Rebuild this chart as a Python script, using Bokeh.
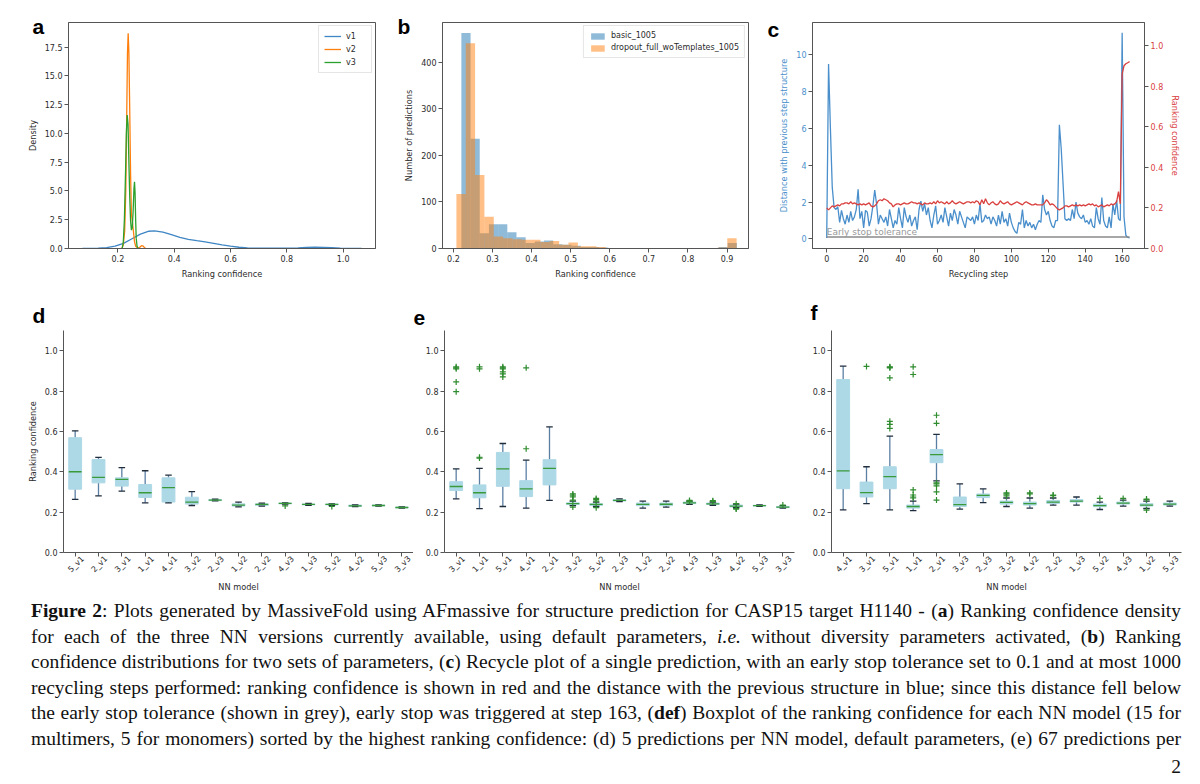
import numpy as np
from bokeh.plotting import figure
from bokeh.models import (Range1d, LinearAxis, FixedTicker, PrintfTickFormatter,
                          Label, Div, Legend, LegendItem, Title)
from bokeh.layouts import row, column
from bokeh.embed import file_html
from bokeh.resources import INLINE

# ---------------- data ----------------
# (a) KDE curves
v1_x = [0.074, 0.10, 0.13, 0.16, 0.19, 0.22, 0.25, 0.28, 0.31, 0.33, 0.36, 0.39, 0.42, 0.45, 0.48,
        0.51, 0.54, 0.57, 0.60, 0.63, 0.66, 0.69, 0.72, 0.75, 0.78, 0.81, 0.84, 0.87, 0.90, 0.93,
        0.96, 0.99, 1.02, 1.065]
v1_y = [0.0, 0.005, 0.02, 0.07, 0.2, 0.45, 0.85, 1.25, 1.5, 1.53, 1.42, 1.2, 0.97, 0.8, 0.68,
        0.57, 0.45, 0.32, 0.2, 0.11, 0.06, 0.035, 0.025, 0.02, 0.025, 0.04, 0.06, 0.09, 0.11, 0.1,
        0.07, 0.035, 0.012, 0.0]
v2_x = [0.214, 0.219, 0.224, 0.228, 0.231, 0.234, 0.2365, 0.239, 0.242, 0.245, 0.248, 0.251,
        0.255, 0.259, 0.263, 0.270, 0.277, 0.284, 0.290, 0.295, 0.300]
v2_y = [0.0, 0.3, 1.5, 5.0, 11.0, 17.0, 18.7, 17.0, 12.0, 6.5, 3.0, 2.4, 1.5, 0.6, 0.2, 0.05,
        0.08, 0.25, 0.2, 0.05, 0.0]
v3_x = [0.215, 0.219, 0.223, 0.227, 0.230, 0.233, 0.236, 0.239, 0.242, 0.245, 0.248, 0.251,
        0.254, 0.257, 0.259, 0.261, 0.263, 0.265, 0.268, 0.272]
v3_y = [0.0, 0.5, 2.5, 6.5, 10.0, 11.6, 10.8, 7.5, 4.5, 2.4, 1.6, 1.8, 3.2, 5.2, 5.8, 4.8, 2.5,
        0.9, 0.2, 0.0]

# (b) histograms
basic_range = (0.2203, 0.9253)
basic_counts = [463, 236, 33, 52, 52, 35, 24, 12, 15, 17, 9, 8, 6, 3, 3, 2, 1, 0, 1, 0,
                0, 0, 0, 0, 0, 0, 0, 1, 3, 12]
drop_range = (0.2076, 0.9246)
drop_counts = [117, 441, 158, 68, 26, 22, 20, 19, 19, 14, 16, 8, 13, 5, 5, 3, 1, 0, 1, 0,
               0, 0, 0, 0, 0, 0, 0, 1, 2, 22]

# (c) recycle plot
distance = [0.05, 9.5, 6.0, 2.8, 1.7, 1.6, 1.75, 0.9, 1.55, 1.1, 0.8, 1.3, 0.9, 1.5, 1.0, 1.2,
            1.6, 2.7, 1.1, 1.5, 0.6, 1.55, 1.45, 0.7, 1.1, 1.8, 2.65, 1.9, 0.8, 1.3, 1.1, 0.9,
            1.2, 0.7, 1.6, 1.1, 0.6, 1.0, 0.8, 1.7, 1.1, 0.6, 1.7, 1.2, 0.9, 1.3, 0.7, 1.0,
            1.2, 0.5, 1.6, 2.05, 1.5, 1.9, 1.3, 1.7, 1.0, 0.6, 1.3, 1.8, 0.8, 1.0, 1.3, 0.9,
            1.7, 1.2, 0.7, 1.4, 1.0, 1.6, 1.3, 0.8, 1.5, 1.2, 0.9, 0.6, 1.2, 1.1, 1.0, 1.2,
            0.8, 1.3, 1.0, 1.9, 0.9, 1.0, 1.3, 1.1, 1.2, 0.8, 1.2, 1.0, 0.7, 1.3, 0.8, 1.5,
            0.9, 1.1, 0.7, 1.4, 0.9, 0.6, 0.4, 0.3, 0.9, 0.8, 1.6, 0.6, 1.0, 0.7, 0.9, 0.6,
            0.8, 0.5, 0.8, 1.0, 0.9, 2.4, 1.6, 1.3, 1.5, 1.0, 0.7, 0.6, 1.0, 1.0, 6.2, 4.9,
            3.0, 1.1, 1.0, 1.1, 1.0, 1.6, 1.1, 2.0, 1.4, 1.2, 1.1, 1.3, 0.9, 1.0, 0.8, 1.1,
            0.7, 0.6, 1.7, 1.1, 0.8, 2.25, 1.0, 0.7, 0.6, 1.2, 0.6, 1.9, 1.3, 2.1, 1.1, 1.0,
            11.2, 1.2, 0.2, 0.08, 0.06]
ranking = [0.20, 0.19, 0.20, 0.21, 0.205, 0.21, 0.215, 0.21, 0.22, 0.22, 0.225, 0.225, 0.22,
           0.23, 0.22, 0.225, 0.22, 0.215, 0.22, 0.215, 0.22, 0.215, 0.22, 0.225, 0.21, 0.205,
           0.21, 0.22, 0.235, 0.24, 0.235, 0.245, 0.24, 0.235, 0.225, 0.22, 0.205, 0.215, 0.22,
           0.22, 0.215, 0.22, 0.225, 0.22, 0.22, 0.225, 0.23, 0.225, 0.225, 0.22, 0.225, 0.22,
           0.215, 0.225, 0.22, 0.22, 0.225, 0.22, 0.23, 0.22, 0.235, 0.225, 0.23, 0.225, 0.22,
           0.23, 0.22, 0.225, 0.235, 0.225, 0.22, 0.225, 0.23, 0.225, 0.22, 0.225, 0.23, 0.23,
           0.225, 0.23, 0.225, 0.235, 0.23, 0.215, 0.24, 0.22, 0.245, 0.225, 0.215, 0.225,
           0.23, 0.22, 0.215, 0.22, 0.235, 0.225, 0.22, 0.225, 0.23, 0.22, 0.215, 0.22, 0.225,
           0.23, 0.225, 0.22, 0.215, 0.225, 0.23, 0.225, 0.22, 0.215, 0.215, 0.22, 0.215,
           0.215, 0.215, 0.215, 0.225, 0.24, 0.23, 0.215, 0.22, 0.215, 0.205, 0.195, 0.19,
           0.195, 0.20, 0.21, 0.21, 0.205, 0.21, 0.215, 0.21, 0.215, 0.21, 0.215, 0.21, 0.215,
           0.21, 0.215, 0.22, 0.215, 0.22, 0.21, 0.215, 0.205, 0.21, 0.215, 0.205, 0.21,
           0.215, 0.21, 0.22, 0.215, 0.22, 0.23, 0.28, 0.22, 0.86, 0.90, 0.91, 0.915, 0.92]
tolerance = 0.1

# (d) 5 predictions per model
d_names = ["5_v1", "2_v1", "3_v1", "1_v1", "4_v1", "3_v2", "2_v3", "1_v2", "2_v2", "4_v3",
           "1_v3", "5_v2", "4_v2", "5_v3", "3_v3"]
d_lo = [0.263, 0.281, 0.304, 0.246, 0.246, 0.233, 0.256, 0.226, 0.230, 0.240, 0.234, 0.234, 0.227, 0.230, 0.220]
d_q1 = [0.314, 0.345, 0.329, 0.273, 0.250, 0.240, 0.257, 0.230, 0.233, 0.241, 0.236, 0.236, 0.228, 0.231, 0.221]
d_med = [0.400, 0.372, 0.362, 0.296, 0.321, 0.250, 0.260, 0.235, 0.238, 0.243, 0.238, 0.238, 0.231, 0.233, 0.223]
d_q3 = [0.569, 0.461, 0.370, 0.337, 0.370, 0.274, 0.263, 0.241, 0.241, 0.245, 0.240, 0.240, 0.235, 0.235, 0.225]
d_hi = [0.603, 0.471, 0.421, 0.405, 0.383, 0.302, 0.264, 0.250, 0.245, 0.246, 0.243, 0.241, 0.236, 0.236, 0.226]
d_out = [[], [], [], [], [], [], [], [], [], [0.231], [], [0.228], [], [], []]

# (e) 67 predictions per model
e_names = ["3_v1", "1_v1", "5_v1", "4_v1", "2_v1", "3_v2", "5_v2", "2_v3", "1_v2", "2_v2",
           "4_v3", "1_v3", "4_v2", "5_v3", "3_v3"]
e_lo = [0.266, 0.217, 0.228, 0.220, 0.258, 0.232, 0.228, 0.252, 0.220, 0.225, 0.238, 0.234, 0.222, 0.229, 0.220]
e_q1 = [0.307, 0.271, 0.328, 0.277, 0.335, 0.238, 0.233, 0.255, 0.232, 0.232, 0.242, 0.238, 0.226, 0.230, 0.222]
e_med = [0.327, 0.296, 0.414, 0.315, 0.417, 0.242, 0.238, 0.258, 0.238, 0.239, 0.246, 0.241, 0.230, 0.232, 0.225]
e_q3 = [0.351, 0.335, 0.496, 0.356, 0.460, 0.246, 0.242, 0.262, 0.245, 0.245, 0.250, 0.245, 0.235, 0.234, 0.228]
e_hi = [0.414, 0.417, 0.540, 0.458, 0.622, 0.255, 0.250, 0.266, 0.255, 0.255, 0.255, 0.250, 0.240, 0.236, 0.232]
e_out = [[0.92, 0.915, 0.91, 0.845, 0.797], [0.472, 0.468, 0.92, 0.91],
         [0.92, 0.915, 0.91, 0.895, 0.885, 0.87], [0.514, 0.915], [],
         [0.29, 0.285, 0.28, 0.275, 0.26, 0.225], [0.268, 0.262, 0.255, 0.222], [], [], [],
         [0.258, 0.253], [0.257, 0.253], [0.242, 0.218, 0.215], [], [0.235]]

# (f)
f_names = ["4_v1", "3_v1", "5_v1", "1_v1", "2_v1", "3_v3", "2_v3", "3_v2", "4_v2", "2_v2",
           "1_v3", "5_v2", "4_v3", "1_v2", "5_v3"]
f_lo = [0.211, 0.242, 0.211, 0.207, 0.355, 0.215, 0.247, 0.228, 0.220, 0.235, 0.235, 0.213, 0.230, 0.218, 0.230]
f_q1 = [0.316, 0.275, 0.316, 0.220, 0.445, 0.228, 0.272, 0.240, 0.235, 0.243, 0.250, 0.227, 0.240, 0.230, 0.235]
f_med = [0.404, 0.297, 0.376, 0.228, 0.485, 0.237, 0.283, 0.248, 0.242, 0.250, 0.255, 0.232, 0.245, 0.235, 0.240]
f_q3 = [0.857, 0.349, 0.425, 0.235, 0.510, 0.275, 0.290, 0.255, 0.250, 0.258, 0.262, 0.240, 0.250, 0.242, 0.245]
f_hi = [0.923, 0.425, 0.577, 0.255, 0.585, 0.340, 0.315, 0.270, 0.270, 0.270, 0.275, 0.250, 0.260, 0.255, 0.255]
f_out = [[], [0.922], [0.92, 0.918, 0.915, 0.865, 0.65, 0.635, 0.615],
         [0.92, 0.882, 0.31, 0.285, 0.275, 0.27], [0.68, 0.64, 0.345, 0.34, 0.33, 0.30, 0.26],
         [], [], [0.295, 0.29, 0.285, 0.28], [0.295, 0.29], [0.285, 0.282], [],
         [0.268], [0.268], [0.265, 0.262, 0.21], []]

caption_lines = [
    "<b>Figure 2</b>: Plots generated by MassiveFold using AFmassive for structure prediction for CASP15 target H1140 - (<b>a</b>) Ranking confidence density",
    "for each of the three NN versions currently available, using default parameters, <i>i.e.</i> without diversity parameters activated, (<b>b</b>) Ranking",
    "confidence distributions for two sets of parameters, (<b>c</b>) Recycle plot of a single prediction, with an early stop tolerance set to 0.1 and at most 1000",
    "recycling steps performed: ranking confidence is shown in red and the distance with the previous structure in blue; since this distance fell below",
    "the early stop tolerance (shown in grey), early stop was triggered at step 163, (<b>def</b>) Boxplot of the ranking confidence for each NN model (15 for",
    "multimers, 5 for monomers) sorted by the highest ranking confidence: (d) 5 predictions per NN model, default parameters, (e) 67 predictions per",
]
page_number = "2"

# ---------------- style ----------------
FONT = "DejaVu Sans"
TXT = "#2b2b2b"
AXC = "#555555"
BLUE = "#3f86c4"
ORANGE = "#ff7f0e"
GREEN = "#2ca02c"
RED = "#d9413f"
TICK_FS = "8px"
LAB_FS = "8.2px"


def style(p, outline=True):
    p.background_fill_color = "white"
    p.border_fill_color = "white"
    p.grid.visible = False
    p.outline_line_color = AXC if outline else None
    for ax in p.axis:
        ax.axis_line_color = AXC
        ax.major_tick_line_color = AXC
        ax.minor_tick_line_color = None
        ax.major_tick_out = 4
        ax.major_tick_in = 0
        ax.major_label_text_font = FONT
        ax.major_label_text_font_size = TICK_FS
        ax.major_label_text_color = TXT
        ax.axis_label_text_font = FONT
        ax.axis_label_text_font_size = LAB_FS
        ax.axis_label_text_font_style = "normal"
        ax.axis_label_text_color = TXT
        ax.major_label_standoff = 2
        ax.axis_label_standoff = 4


def panel_label(p, txt, offset, standoff):
    p.title = Title(text=txt, align="left", vertical_align="bottom", offset=offset,
                    standoff=standoff, text_font="Liberation Sans", text_font_style="bold",
                    text_font_size="21px", text_color="black")


# ---------------- (a) ----------------
pa = figure(width=377, height=282, x_range=Range1d(0.0245, 1.115), y_range=Range1d(0, 19.64),
            output_backend="svg", toolbar_location=None, margin=0,
            min_border_left=60, min_border_right=10, min_border_top=14, min_border_bottom=42)
ra1 = pa.line(v1_x, v1_y, color=BLUE, line_width=1.3)
ra2 = pa.line(v2_x, v2_y, color=ORANGE, line_width=1.3)
ra3 = pa.line(v3_x, v3_y, color=GREEN, line_width=1.3)
pa.xaxis.ticker = FixedTicker(ticks=[0.2, 0.4, 0.6, 0.8, 1.0])
pa.xaxis.formatter = PrintfTickFormatter(format="%.1f")
pa.yaxis.ticker = FixedTicker(ticks=[0, 2.5, 5, 7.5, 10, 12.5, 15, 17.5])
pa.yaxis.formatter = PrintfTickFormatter(format="%.1f")
pa.xaxis.axis_label = "Ranking confidence"
pa.yaxis.axis_label = "Density"
style(pa)
lega = Legend(items=[LegendItem(label="v1", renderers=[ra1]), LegendItem(label="v2", renderers=[ra2]),
                     LegendItem(label="v3", renderers=[ra3])],
              location="top_right", label_text_font=FONT, label_text_font_size="8px",
              label_text_color=TXT, glyph_width=17, glyph_height=10, label_height=10,
              spacing=3, padding=5, margin=3, border_line_color="#cccccc",
              background_fill_alpha=0.9)
pa.add_layout(lega)
panel_label(pa, "a", -36, -31.5)

# ---------------- (b) ----------------
pb = figure(width=375, height=282, x_range=Range1d(0.172, 0.955), y_range=Range1d(0, 485.7),
            output_backend="svg", toolbar_location=None, margin=0,
            min_border_left=57, min_border_right=12, min_border_top=14, min_border_bottom=42)
be = np.linspace(basic_range[0], basic_range[1], len(basic_counts) + 1)
de = np.linspace(drop_range[0], drop_range[1], len(drop_counts) + 1)
rb1 = pb.quad(left=be[:-1], right=be[1:], top=basic_counts, bottom=0,
              fill_color="#1f77b4", fill_alpha=0.5, line_color=None)
rb2 = pb.quad(left=de[:-1], right=de[1:], top=drop_counts, bottom=0,
              fill_color=ORANGE, fill_alpha=0.5, line_color=None)
pb.xaxis.ticker = FixedTicker(ticks=[0.2, 0.3, 0.4, 0.5, 0.6, 0.7, 0.8, 0.9])
pb.xaxis.formatter = PrintfTickFormatter(format="%.1f")
pb.yaxis.ticker = FixedTicker(ticks=[0, 100, 200, 300, 400])
pb.xaxis.axis_label = "Ranking confidence"
pb.yaxis.axis_label = "Number of predictions"
style(pb)
legb = Legend(items=[LegendItem(label="basic_1005", renderers=[rb1]),
                     LegendItem(label="dropout_full_woTemplates_1005", renderers=[rb2])],
              location="top_right", label_text_font=FONT, label_text_font_size="8px",
              label_text_color=TXT, glyph_width=17, glyph_height=8, label_height=9,
              spacing=3, padding=5, margin=3, border_line_color="#cccccc",
              background_fill_alpha=0.9)
pb.add_layout(legb)
panel_label(pb, "b", -45, -31.5)

# ---------------- (c) ----------------
steps = list(range(len(distance)))
pc = figure(width=432, height=282, x_range=Range1d(-7.7, 172.1), y_range=Range1d(-0.52, 11.76),
            output_backend="svg", toolbar_location=None, margin=0,
            min_border_left=52, min_border_right=48, min_border_top=11, min_border_bottom=42)
pc.extra_y_ranges = {"rc": Range1d(0, 1.113)}
pc.line(steps, distance, color="#4a8fcb", line_width=1.3)
pc.line([steps[0], steps[-1]], [tolerance, tolerance], color="#8a8a8a", line_width=1.5)
pc.line(steps, ranking, color=RED, line_width=1.3, y_range_name="rc")
pc.add_layout(LinearAxis(y_range_name="rc", axis_label="Ranking confidence"), "right")
pc.add_layout(Label(x=0, y=tolerance, text="Early stop tolerance", text_color="#999999",
                    text_font=FONT, text_font_size="9px", text_baseline="bottom", y_offset=0))
pc.xaxis.ticker = FixedTicker(ticks=[0, 20, 40, 60, 80, 100, 120, 140, 160])
pc.xaxis.axis_label = "Recycling step"
pc.yaxis[0].ticker = FixedTicker(ticks=[0, 2, 4, 6, 8, 10])
pc.yaxis[0].axis_label = "Distance with previous step structure"
style(pc)
pc.yaxis[0].major_label_text_color = "#4a8fcb"
pc.yaxis[0].axis_label_text_color = "#4a8fcb"
pc.yaxis[1].ticker = FixedTicker(ticks=[0, 0.2, 0.4, 0.6, 0.8, 1.0])
pc.yaxis[1].formatter = PrintfTickFormatter(format="%.1f")
pc.yaxis[1].major_label_text_color = RED
pc.yaxis[1].axis_label_text_color = RED
panel_label(pc, "c", -45, -37.5)


# ---------------- boxplots ----------------
def boxplot(width, bl, br, names, lo, q1, med, q3, hi, outl, ylabel, lab, lab_off, lab_so):
    p = figure(width=width, height=308, x_range=Range1d(-0.5, 14.5), y_range=Range1d(0, 1.1),
               output_backend="svg", toolbar_location=None, margin=0,
               min_border_left=bl, min_border_right=br, min_border_top=40, min_border_bottom=46)
    idx = np.arange(len(names))
    p.segment(idx, lo, idx, q1, color="#5b7fa3", line_width=1.3)
    p.segment(idx, q3, idx, hi, color="#5b7fa3", line_width=1.3)
    p.vbar(x=idx, bottom=q1, top=q3, width=0.55, fill_color="#add8e6", line_color="#add8e6")
    p.segment(idx - 0.14, lo, idx + 0.14, lo, color="#1f2d3d", line_width=1.3)
    p.segment(idx - 0.14, hi, idx + 0.14, hi, color="#1f2d3d", line_width=1.3)
    p.segment(idx - 0.275, med, idx + 0.275, med, color="#3a9a3a", line_width=1.3)
    ox = [i for i, o in enumerate(outl) for _ in o]
    oy = [v for o in outl for v in o]
    p.scatter(ox, oy, marker="cross", size=6, color="#2e8b2e", line_width=1.2)
    # axis with the tick marks
    tick_ax = p.xaxis[0]
    tick_ax.ticker = FixedTicker(ticks=list(range(len(names))))
    tick_ax.major_label_overrides = {i: "" for i in range(len(names))}
    # second axis carrying the rotated names, centred under the ticks
    p.extra_x_ranges = {"lab": Range1d(-0.5 - 0.33, 14.5 - 0.33)}
    name_ax = LinearAxis(x_range_name="lab", ticker=FixedTicker(ticks=list(range(len(names)))),
                         major_label_overrides={i: n for i, n in enumerate(names)},
                         major_label_orientation=np.pi / 4, axis_label="NN model")
    p.add_layout(name_ax, "below")
    p.yaxis.ticker = FixedTicker(ticks=[0, 0.2, 0.4, 0.6, 0.8, 1.0])
    p.yaxis.formatter = PrintfTickFormatter(format="%.1f")
    if ylabel:
        p.yaxis.axis_label = ylabel
    style(p, outline=False)
    tick_ax.major_label_text_font_size = "1px"
    tick_ax.major_label_standoff = 0
    name_ax.axis_line_color = None
    name_ax.major_tick_line_color = None
    name_ax.major_tick_out = 0
    name_ax.major_label_standoff = 1
    name_ax.axis_label_standoff = 2
    panel_label(p, lab, lab_off, lab_so)
    return p


pd_ = boxplot(405, 55, 0, d_names, d_lo, d_q1, d_med, d_q3, d_hi, d_out, "Ranking confidence", "d", -31, 8)
pe_ = boxplot(387, 31, 6, e_names, e_lo, e_q1, e_med, e_q3, e_hi, e_out, None, "e", -31, 12)
pf_ = boxplot(392, 31, 11, f_names, f_lo, f_q1, f_med, f_q3, f_hi, f_out, None, "f", -21, 13)

# ---------------- caption ----------------
line_html = "".join(
    '<div style="text-align:justify;text-align-last:justify;height:25.5px;line-height:25.5px;'
    'white-space:normal;">%s</div>' % ln for ln in caption_lines)
cap = Div(text='<div style="font-family:\'Liberation Serif\',serif;font-size:19.5px;color:#111;'
               'width:1150px;">%s</div>' % line_html,
          width=1150, height=153, margin=(0, 0, 0, 23))
pnum = Div(text='<div style="font-family:\'Liberation Serif\',serif;font-size:19.5px;color:#111;'
                'width:1150px;text-align:right;line-height:22px;">%s</div>' % page_number,
           width=1150, height=22, margin=(5, 0, 0, 23))

layout = column(row(pa, pb, pc, spacing=0), row(pd_, pe_, pf_, spacing=0), cap, pnum,
                spacing=0, margin=(8, 8, 0, 8))
open("out.html", "w").write(file_html(layout, INLINE))
